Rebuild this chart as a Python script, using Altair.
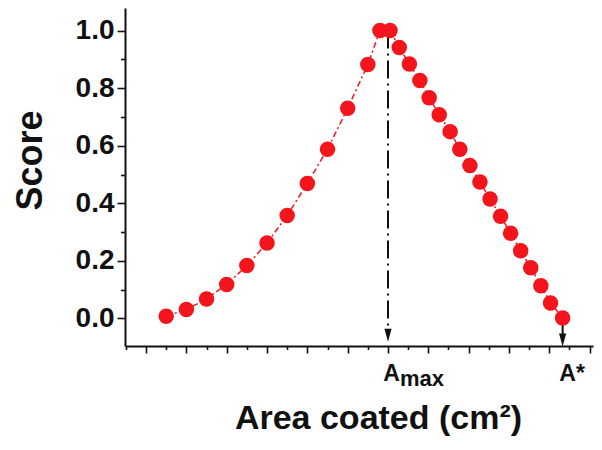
import altair as alt
import pandas as pd

# ---- data ----
area_x = [1.5, 2.0, 2.5, 3.0, 3.5, 4.0, 4.5, 5.0, 5.5, 6.0, 6.5, 6.8,
          7.05, 7.28, 7.53, 7.79, 8.02, 8.27, 8.54, 8.78, 9.03, 9.28, 9.53,
          9.79, 10.04, 10.29, 10.54, 10.79, 11.03, 11.33]
score_y = [0.008, 0.031, 0.068, 0.118, 0.184, 0.262, 0.358, 0.469, 0.588, 0.730, 0.882, 1.0,
           1.0, 0.941, 0.884, 0.827, 0.767, 0.708, 0.649, 0.588, 0.531, 0.474, 0.415,
           0.355, 0.296, 0.235, 0.176, 0.114, 0.054, 0.002]

x_domain = [0.4786, 12.083]
y_domain = [-0.0956, 1.0785]
x_major = [1, 2, 3, 4, 5, 6, 7, 8, 9, 10, 11, 12]
x_minor = [0.5, 1.5, 2.5, 3.5, 4.5, 5.5, 6.5, 7.5, 8.5, 9.5, 10.5, 11.5]
y_major = [0.0, 0.2, 0.4, 0.6, 0.8, 1.0]
y_minor = [0.1, 0.3, 0.5, 0.7, 0.9]

a_max = 7.0
a_star = 11.33
x_labels = [a_max, a_star]

# arrows: vertical guide from the curve down to the arrowhead
amax_top, amax_bot, amax_head = 1.0, -0.036, -0.058
astar_top, astar_bot, astar_head = 0.0, -0.055, -0.075

RED = "#f3141c"
FONT = "Liberation Sans"

df_pts = pd.DataFrame({"x": area_x, "y": score_y})
df_amax = pd.DataFrame({"x": [a_max], "y": [amax_top], "y2": [amax_bot]})
df_astar = pd.DataFrame({"x": [a_star], "y": [astar_top], "y2": [astar_bot]})
df_heads = pd.DataFrame({"x": [a_max, a_star], "y": [amax_head, astar_head]})
df_sub = pd.DataFrame({"x": [a_max], "y": [y_domain[0]]})

xs = alt.Scale(domain=x_domain, nice=False, zero=False)
ys = alt.Scale(domain=y_domain, nice=False, zero=False)

x_major_axis = alt.Axis(orient="bottom", values=x_major, labels=False, title=None,
                        tickSize=7, tickWidth=1.6, tickColor="#111", domain=True,
                        domainColor="#111", domainWidth=2, grid=False)
x_minor_axis = alt.Axis(orient="bottom", values=x_minor, labels=False, title=None,
                        tickSize=3.5, tickWidth=1.6, tickColor="#111", domain=False, grid=False)
x_label_axis = alt.Axis(orient="bottom", values=x_labels, ticks=False, tickSize=0, domain=False,
                        grid=False,
                        labelExpr="datum.value > 10 ? 'A*' : 'A'",
                        labelFont=FONT, labelFontSize=23, labelFontWeight="bold",
                        labelColor="#111", labelBaseline="alphabetic", labelPadding=34,
                        labelOffset={"expr": "datum.value > 10 ? 9 : 3"},
                        title="Area coated (cm²)", titleFont=FONT, titleFontSize=34,
                        titleFontWeight="bold", titleColor="#111",
                        titleBaseline="alphabetic", titleX=253, titleY=82)

y_major_axis = alt.Axis(orient="left", values=y_major, format=".1f", tickSize=8,
                        tickWidth=1.6, tickColor="#111", domain=True, domainColor="#111",
                        domainWidth=2, grid=False,
                        labelFont=FONT, labelFontSize=28, labelFontWeight="bold",
                        labelColor="#111", labelPadding=3,
                        title="Score", titleFont=FONT, titleFontSize=36,
                        titleFontWeight="bold", titleColor="#111",
                        titleBaseline="alphabetic", titleX=-84, titleY=152)
y_minor_axis = alt.Axis(orient="left", values=y_minor, labels=False, title=None,
                        tickSize=4.5, tickWidth=1.6, tickColor="#111", domain=False, grid=False)

line = alt.Chart(df_pts).mark_line(
    color=RED, strokeWidth=1.5, strokeDash=[6, 3, 2, 3]
).encode(
    x=alt.X("x:Q", scale=xs, axis=x_major_axis),
    y=alt.Y("y:Q", scale=ys, axis=y_major_axis),
)

points = alt.Chart(df_pts).mark_circle(size=240, color=RED, opacity=1).encode(
    x=alt.X("x:Q", scale=xs, axis=x_minor_axis),
    y=alt.Y("y:Q", scale=ys, axis=y_minor_axis),
)

vline = alt.Chart(df_amax).mark_rule(
    color="#111", strokeWidth=2, strokeDash=[18, 5, 2, 5]
).encode(
    x=alt.X("x:Q", scale=xs, axis=x_label_axis),
    y=alt.Y("y:Q", scale=ys, axis=None),
    y2="y2:Q",
)

sline = alt.Chart(df_astar).mark_rule(color="#111", strokeWidth=2).encode(
    x=alt.X("x:Q", scale=xs, axis=None),
    y=alt.Y("y:Q", scale=ys, axis=None),
    y2="y2:Q",
)

heads = alt.Chart(df_heads).mark_point(
    shape="M -0.55 -1 L 0.55 -1 L 0 1 Z", size=170, filled=True, color="#111", opacity=1
).encode(
    x=alt.X("x:Q", scale=xs, axis=None),
    y=alt.Y("y:Q", scale=ys, axis=None),
)

sub = alt.Chart(df_sub).mark_text(
    text="max", align="left", baseline="alphabetic", dx=12, dy=40,
    font=FONT, fontSize=22, fontWeight="bold", color="#111"
).encode(
    x=alt.X("x:Q", scale=xs, axis=None),
    y=alt.Y("y:Q", scale=ys, axis=None),
)

chart = alt.layer(line, vline, sline, heads, points, sub).resolve_axis(
    x="independent", y="independent"
).properties(
    width=468, height=338,
    autosize=alt.AutoSizeParams(type="none"),
    padding={"left": 117, "top": 0, "right": 1, "bottom": 90},
    background="white",
).configure_view(stroke=None)

chart.save("out.html", embed_options={"renderer": "svg", "actions": False})
